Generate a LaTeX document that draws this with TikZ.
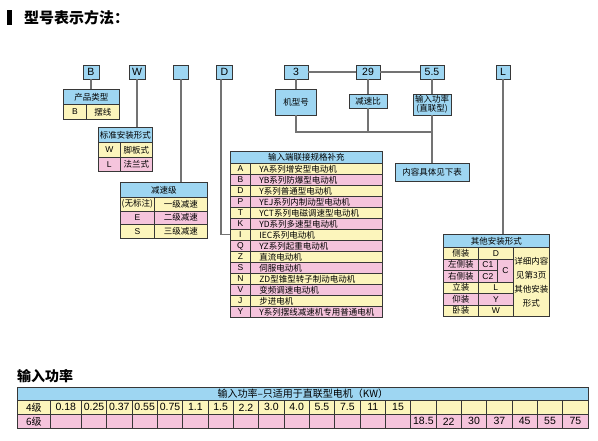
\documentclass[tikz,border=0pt]{standalone}
\usepackage{fontspec}
\setmainfont{Noto Sans CJK SC}
\newfontfamily\latfont{Liberation Sans}
\usetikzlibrary{positioning}
\definecolor{hdrblue}{RGB}{158,214,242}
\definecolor{celly}{RGB}{252,245,188}
\definecolor{cellp}{RGB}{245,196,220}
\definecolor{edgegray}{RGB}{55,55,55}
\definecolor{wiregray}{RGB}{115,115,115}
\tikzset{
 codebox/.style={
 rectangle,
 draw=edgegray,
 fill=hdrblue,
 line width=0.9pt,
 inner sep=0pt,
 minimum height=14pt,
 font=\latfont\fontsize{10.5}{12}\selectfont
 },
 subbox/.style={
 rectangle,
 draw=edgegray,
 fill=hdrblue,
 line width=0.9pt,
 inner sep=0pt,
 align=center,
 font=\fontsize{8.5}{9}\selectfont
 },
 cell/.style={
 rectangle,
 draw=edgegray,
 line width=0.7pt,
 inner sep=0pt,
 anchor=north west,
 font=\fontsize{8.5}{10}\selectfont
 },
 hdr/.style={cell, fill=hdrblue},
 ycell/.style={cell, fill=celly},
 pcell/.style={cell, fill=cellp},
 code/.style={font=\latfont\fontsize{8.5}{10}\selectfont},
 num/.style={font=\latfont\fontsize{10.5}{12}\selectfont},
 wire/.style={draw=wiregray, line width=1.2pt}
}

\begin{document}
\begin{tikzpicture}[x=1pt, y=-1pt]
 \useasboundingbox (0,0) rectangle (598,440);

 % title
 \fill (7,10) rectangle (12,25);
 \node[anchor=west, inner sep=0pt, font=\bfseries\fontsize{15}{15}\selectfont] (title) at (24,17.5) {型号表示方法：};

 % code letters
 \node[codebox, minimum width=16] (cB) at (91,72) {B};
 \node[codebox, minimum width=16] (cW) at (137,72) {W};
 \node[codebox, minimum width=15] (cE) at (181,72) {};
 \node[codebox, minimum width=16] (cD) at (224.5,72) {D};
 \node[codebox, minimum width=24] (c3) at (296,72) {3};
 \node[codebox, minimum width=24] (c29) at (368,72) {29};
 \node[codebox, minimum width=24] (c55) at (432,72) {5.5};
 \node[codebox, minimum width=14] (cL) at (503,72) {L};

 % frame, ratio, power
 \node[subbox, minimum width=41, minimum height=26] (frame) at (296,102) {机型号};
 \node[subbox, minimum width=38, minimum height=14] (ratio) at (368,101) {减速比};
 \node[subbox, minimum width=38, minimum height=21] (power) at (432,104.5) {输入功率\\(直联型)};
 \node[subbox, minimum width=74, minimum height=18] (seebelow) at (432,172) {内容具体见下表};
 \coordinate (brk) at (432,132);

 \draw[wire] (c3) -- (c29);
 \draw[wire] (c29) -- (c55);
 \draw[wire] (c3) -- (c3 |- frame.north);
 \draw[wire] (c29) -- (ratio);
 \draw[wire] (c55) -- (power);
 \draw[wire] (frame.south -| c3) |- (brk);
 \draw[wire] (ratio) -- (ratio |- brk);
 \draw[wire] (power) -- (seebelow);

 % product type
 \node[hdr, minimum width=56, minimum height=15] (ptype) at (63,89) {产品类型};
 \node[ycell, code, minimum width=23, minimum height=15] (ptB) at (63,104) {B};
 \node[ycell, minimum width=33, minimum height=15] (ptCyc) at (86,104) {摆线};
 \draw[wire] (cB) -- (cB |- ptype.north);

 % standard mounting
 \node[hdr, minimum width=54, minimum height=15] (mount) at (98,127) {标准安装形式};
 \node[ycell, code, minimum width=22, minimum height=15] (mW) at (98,142) {W};
 \node[ycell, minimum width=32, minimum height=15] (mWtxt) at (120,142) {脚板式};
 \node[pcell, code, minimum width=22, minimum height=14] (mL) at (98,157) {L};
 \node[pcell, minimum width=32, minimum height=14] (mLtxt) at (120,157) {法兰式};
 \draw[wire] (cW) -- (cW |- mount.north);

 % stages
 \node[hdr, minimum width=87, minimum height=15] (stage) at (120,182) {减速级};
 \node[ycell, minimum width=34, minimum height=13.5] (s1) at (120,197) {(无标注)};
 \node[ycell, minimum width=53, minimum height=13.5] (s1txt) at (154,197) {一级减速};
 \node[pcell, code, minimum width=34, minimum height=13.5] (s2) at (120,210.5) {E};
 \node[pcell, minimum width=53, minimum height=13.5] (s2txt) at (154,210.5) {二级减速};
 \node[ycell, code, minimum width=34, minimum height=13.5] (s3) at (120,224) {S};
 \node[ycell, minimum width=53, minimum height=13.5] (s3txt) at (154,224) {三级减速};
 \draw[wire] (cE) -- (cE |- stage.north);

 % input connection
 \node[hdr, minimum width=152, minimum height=12] (motor) at (230,151) {输入端联接规格补充};
 \foreach \k/\txt [count=\i] in {A/YA系列增安型电动机, B/YB系列防爆型电动机,
 D/Y系列普通型电动机, P/YEJ系列内制动型电动机, T/YCT系列电磁调速型电动机,
 K/YD系列多速型电动机, I/IEC系列电动机, Q/YZ系列起重电动机, Z/直流电动机,
 S/伺服电动机, N/ZD型锥型转子制动电动机, V/变频调速电动机, J/步进电机,
 Y/Y系列摆线减速机专用普通电机} {
 \pgfmathsetmacro\rowy{163+(\i-1)*11}
 \pgfmathtruncatemacro\odd{mod(\i,2)}
 \ifnum\odd=1 \def\rowcol{celly}\else\def\rowcol{cellp}\fi
 \node[cell, code, fill=\rowcol, minimum width=20, minimum height=11] (k\i) at (230,\rowy) {\k};
 \node[cell, fill=\rowcol, minimum height=11, text width=114, inner xsep=9, align=left] (m\i) at (250,\rowy) {\txt};
 }
 \draw[wire] ([xshift=-3.5]cD.south) |- (k7.west);

 % other mountings
 \node[hdr, minimum width=106, minimum height=13] (other) at (443,234) {其他安装形式};
 \node[ycell, minimum width=35, minimum height=11.5] (o1) at (443,247) {侧装};
 \node[pcell, minimum width=35, minimum height=11.5] (o2) at (443,258.5) {左侧装};
 \node[pcell, minimum width=35, minimum height=11.5] (o3) at (443,270) {右侧装};
 \node[ycell, minimum width=35, minimum height=11.5] (o4) at (443,281.5) {立装};
 \node[pcell, minimum width=35, minimum height=11.5] (o5) at (443,293) {仰装};
 \node[ycell, minimum width=35, minimum height=11.5] (o6) at (443,304.5) {卧装};
 \node[ycell, code, minimum width=35, minimum height=11.5] (oD) at (478,247) {D};
 \node[pcell, code, minimum width=19, minimum height=11.5] (oC1) at (478,258.5) {C1};
 \node[pcell, code, minimum width=19, minimum height=11.5] (oC2) at (478,270) {C2};
 \node[pcell, code, minimum width=16, minimum height=23] (oC) at (497,258.5) {C};
 \node[ycell, code, minimum width=35, minimum height=11.5] (oL) at (478,281.5) {L};
 \node[pcell, code, minimum width=35, minimum height=11.5] (oY) at (478,293) {Y};
 \node[ycell, code, minimum width=35, minimum height=11.5] (oW) at (478,304.5) {W};
 \node[ycell, minimum width=36, minimum height=69, align=center,
 font=\fontsize{8.5}{14}\selectfont] (onote) at (513,247) {详细内容\\见第3页\\其他安装\\形式};
 \draw[wire] (cL) -- (cL |- other.north);

 % power table
 \node[anchor=west, inner sep=0pt, font=\bfseries\fontsize{14}{14}\selectfont] (ptitle) at (17,376.5) {输入功率};
 \node[hdr, minimum width=571, minimum height=13, font=\fontsize{10}{11}\selectfont] (phdr) at (17,387) {输入功率–只适用于直联型电机（KW）};
 \node[ycell, minimum width=33, minimum height=14, font=\fontsize{10}{11}\selectfont] (g4) at (17,400) {4级};
 \node[pcell, minimum width=33, minimum height=14, font=\fontsize{10}{11}\selectfont] (g6) at (17,414) {6级};
 \foreach \v [count=\j] in {0.18,0.25,0.37,0.55,0.75,1.1,1.5,2.2,3.0,4.0,5.5,7.5,11,15} {
 \pgfmathsetmacro\cx{\j==1 ? 50 : 81+(\j-2)*25.335}
 \pgfmathsetmacro\cw{\j==1 ? 31 : 25.335}
 \node[ycell, num, minimum width=\cw, minimum height=14] (p4\j) at (\cx,400) {\v};
 \node[pcell, minimum width=\cw, minimum height=14] (p6\j) at (\cx,414) {};
 }
 \foreach \v [count=\j from 15] in {18.5,22,30,37,45,55,75} {
 \pgfmathsetmacro\cx{81+(\j-2)*25.335}
 \node[ycell, minimum width=25.335, minimum height=14] (p4\j) at (\cx,400) {};
 \node[pcell, num, minimum width=25.335, minimum height=14] (p6\j) at (\cx,414) {\v};
 }
\end{tikzpicture}
\end{document}
